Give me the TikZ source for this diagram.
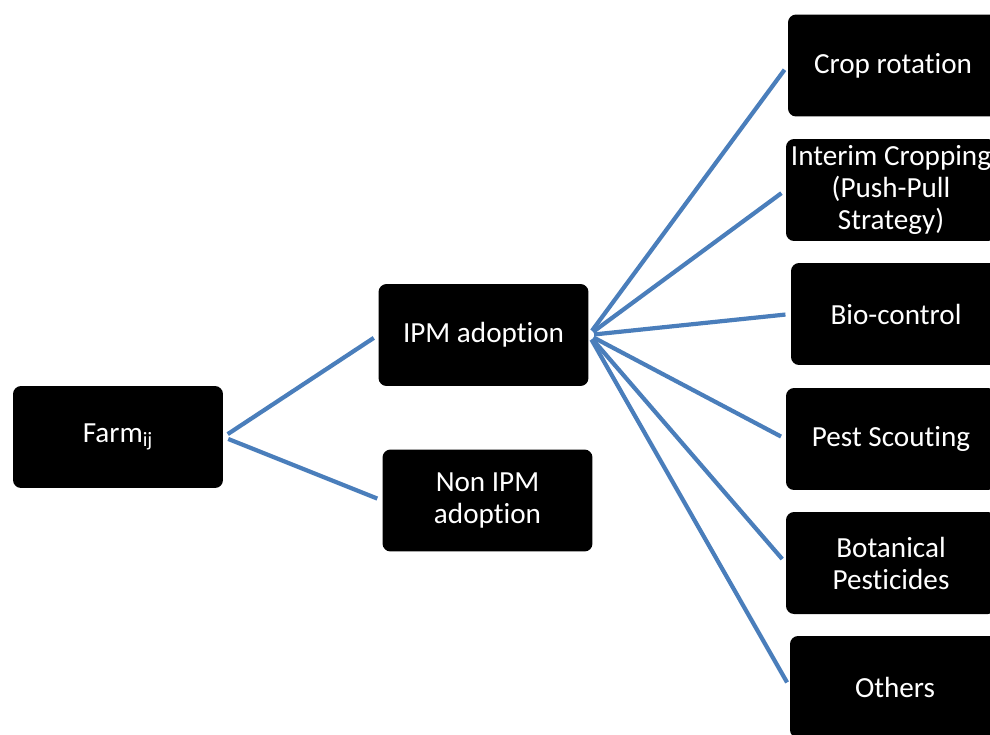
\documentclass[tikz,border=0pt]{standalone}
\usepackage{fontspec}
\setmainfont{Carlito}[Ligatures={NoCommon,NoRare}]
\usepackage{tikz}
\definecolor{linkblue}{RGB}{74,126,187}

\begin{document}
\begin{tikzpicture}[
    x=0.02cm, y=-0.02cm,
    blk/.style={
      fill=black, text=white, rounded corners=0.16cm,
      align=center, minimum width=4.2cm, minimum height=2.04cm,
      inner sep=0pt, font=\fontsize{16.6}{18.2}\selectfont
    },
    link/.style={draw=linkblue, line width=2.4pt,
      shorten <=3pt, shorten >=3pt},
  ]
    \clip (0,0) rectangle (990,734);
    \node[blk] (farm) at (118,437) {Farm\textsubscript{ij}};
    \node[blk] (ipm) at (483.5,335) {IPM adoption};
    \node[blk] (nonipm) at (487.5,500.5) {Non IPM\\adoption};
    \node[blk] (crop) at (893,65.5) {Crop rotation};
    \node[blk] (interim) at (891,190) {Interim Cropping\\(Push-Pull\\Strategy)};
    \node[blk] (bio) at (896,314) {Bio-control};
    \node[blk] (pest) at (891,439) {Pest Scouting};
    \node[blk] (botan) at (891,563) {Botanical\\Pesticides};
    \node[blk] (others) at (895,687) {Others};
    \draw[link] (farm.east) -- (ipm.west);
    \draw[link] (farm.east) -- (nonipm.west);
    \draw[link] (ipm.east) -- (crop.west);
    \draw[link] (ipm.east) -- (interim.west);
    \draw[link] (ipm.east) -- (bio.west);
    \draw[link] (ipm.east) -- (pest.west);
    \draw[link] (ipm.east) -- (botan.west);
    \draw[link] (ipm.east) -- (others.west);
  \end{tikzpicture}
\end{document}
